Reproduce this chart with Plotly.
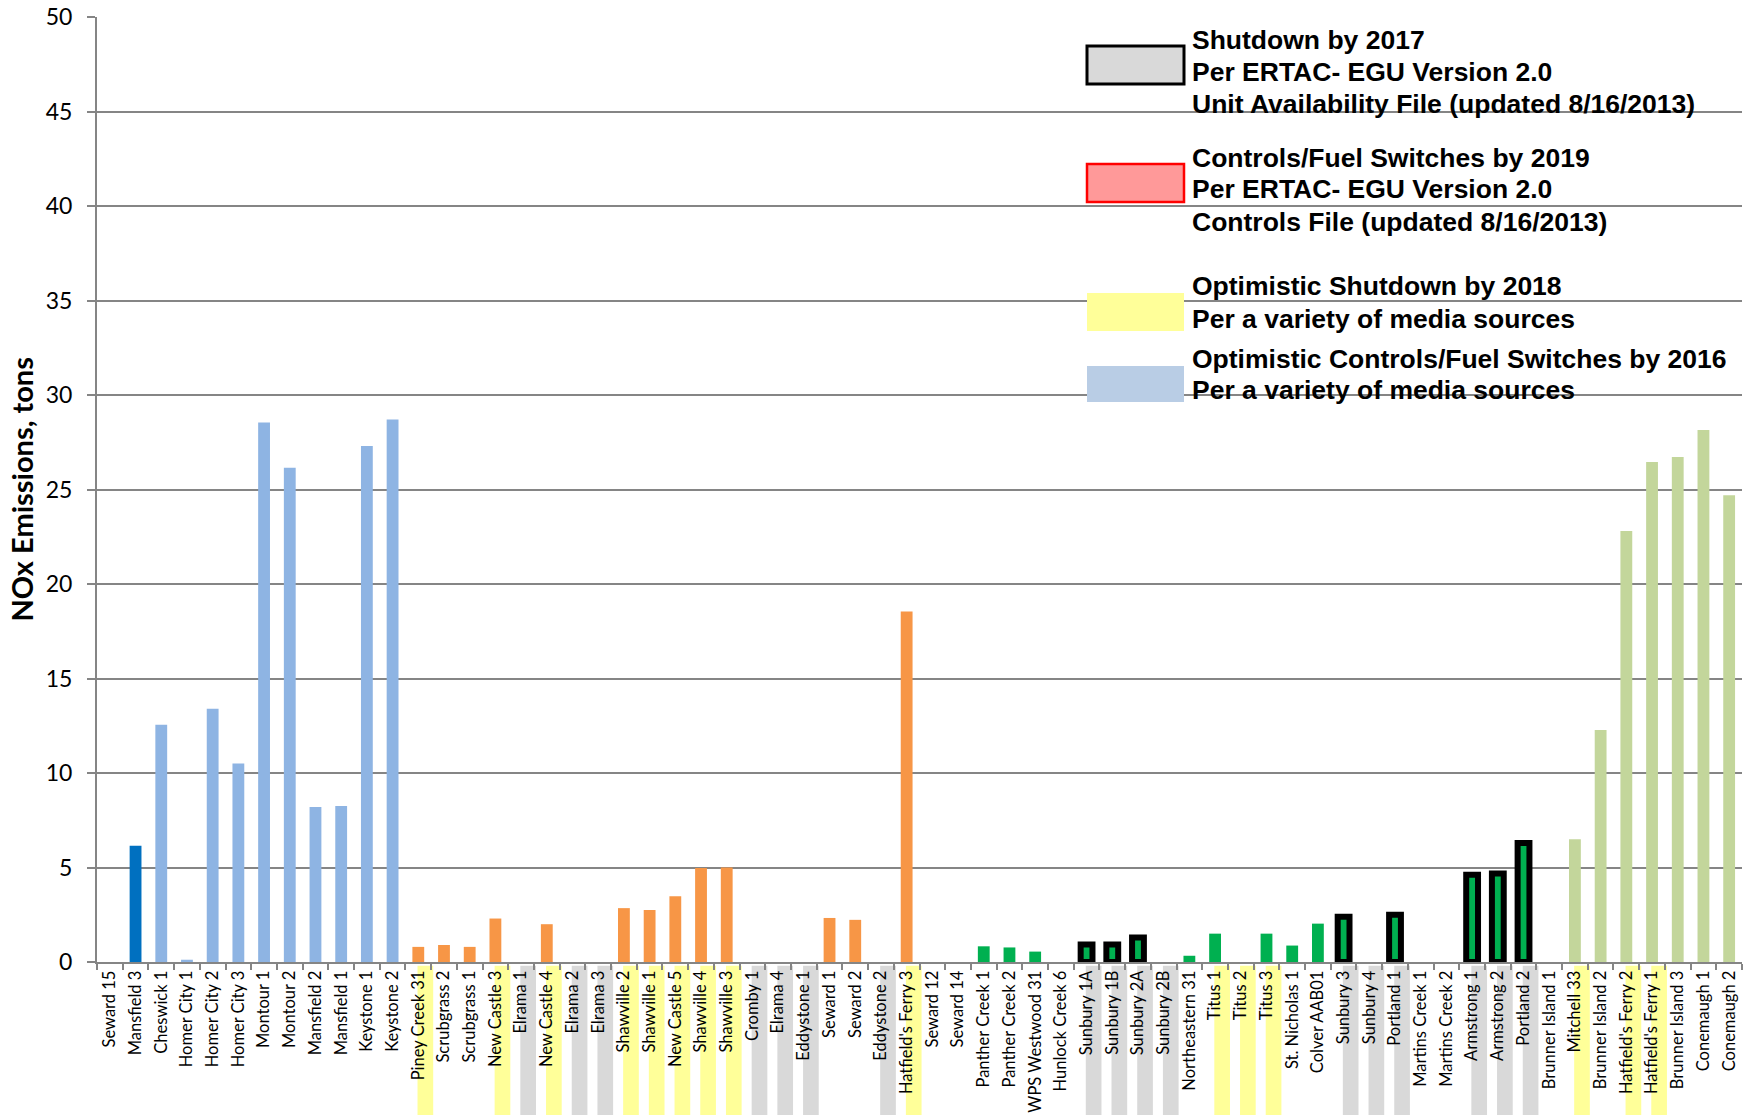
import plotly.graph_objects as go

# ---- data -------------------------------------------------------------
units = [
    "Seward 15", "Mansfield 3", "Cheswick 1", "Homer City 1", "Homer City 2",
    "Homer City 3", "Montour 1", "Montour 2", "Mansfield 2", "Mansfield 1",
    "Keystone 1", "Keystone 2", "Piney Creek 31", "Scrubgrass 2", "Scrubgrass 1",
    "New Castle 3", "Elrama 1", "New Castle 4", "Elrama 2", "Elrama 3",
    "Shawville 2", "Shawville 1", "New Castle 5", "Shawville 4", "Shawville 3",
    "Cromby 1", "Elrama 4", "Eddystone 1", "Seward 1", "Seward 2",
    "Eddystone 2", "Hatfield's Ferry 3", "Seward 12", "Seward 14", "Panther Creek 1",
    "Panther Creek 2", "WPS Westwood 31", "Hunlock Creek 6", "Sunbury 1A", "Sunbury 1B",
    "Sunbury 2A", "Sunbury 2B", "Northeastern 31", "Titus 1", "Titus 2",
    "Titus 3", "St. Nicholas 1", "Colver AAB01", "Sunbury 3", "Sunbury 4",
    "Portland 1", "Martins Creek 1", "Martins Creek 2", "Armstrong 1", "Armstrong 2",
    "Portland 2", "Brunner Island 1", "Mitchell 33", "Brunner Island 2", "Hatfield's Ferry 2",
    "Hatfield's Ferry 1", "Brunner Island 3", "Conemaugh 1", "Conemaugh 2",
]

nox_tons = [
    0.0, 6.15, 12.55, 0.12, 13.4,
    10.5, 28.55, 26.15, 8.2, 8.25,
    27.3, 28.7, 0.8, 0.9, 0.8,
    2.3, 0.0, 2.0, 0.0, 0.0,
    2.85, 2.75, 3.48, 4.97, 5.0,
    0.0, 0.0, 0.0, 2.33, 2.23,
    0.0, 18.55, 0.0, 0.0, 0.83,
    0.77, 0.55, 0.0, 0.92, 0.92,
    1.3, 0.0, 0.33, 1.5, 0.0,
    1.5, 0.87, 2.03, 2.4, 0.0,
    2.5, 0.0, 0.0, 4.62, 4.68,
    6.3, 0.0, 6.5, 12.28, 22.8,
    26.45, 26.72, 28.15, 24.7,
]

# unit grouping (contiguous runs along the axis)
unit_group = ["B"] * 1 + ["A"] * 1 + ["B"] * 10 + ["C"] * 20 + ["D"] * 24 + ["E"] * 8

shutdown_2017 = [
    "Elrama 1", "Elrama 2", "Elrama 3", "Cromby 1", "Elrama 4", "Eddystone 1",
    "Eddystone 2", "Sunbury 1A", "Sunbury 1B", "Sunbury 2A", "Sunbury 2B",
    "Sunbury 3", "Sunbury 4", "Portland 1", "Armstrong 1", "Armstrong 2", "Portland 2",
]
optimistic_shutdown_2018 = [
    "Piney Creek 31", "New Castle 3", "New Castle 4", "Shawville 2", "Shawville 1",
    "New Castle 5", "Shawville 4", "Shawville 3", "Hatfield's Ferry 3", "Titus 1",
    "Titus 2", "Titus 3", "Mitchell 33", "Hatfield's Ferry 2", "Hatfield's Ferry 1",
]

legend_entries = [
    ["Shutdown by 2017", "Per ERTAC- EGU Version 2.0",
     "Unit Availability File (updated 8/16/2013)"],
    ["Controls/Fuel Switches by 2019", "Per ERTAC- EGU Version 2.0",
     "Controls File (updated 8/16/2013)"],
    ["Optimistic Shutdown by 2018", "Per a variety of media sources"],
    ["Optimistic Controls/Fuel Switches by 2016", "Per a variety of media sources"],
]

# ---- styling ----------------------------------------------------------
GROUP_COLORS = {"A": "#0070C0", "B": "#8EB4E3", "C": "#F79646", "D": "#00B050", "E": "#C3D69B"}
GRID = "#858585"
W, H = 1748, 1115
M = dict(l=97, r=6, t=17, b=153)
PW = W - M["l"] - M["r"]
PH = H - M["t"] - M["b"]


def px_x(px):
    return (px - M["l"]) / PW


def px_y(py):
    return (H - M["b"] - py) / PH


bar_colors = [GROUP_COLORS[g] for g in unit_group]
outline_w = [6 if (u in shutdown_2017 and v > 0) else 0 for u, v in zip(units, nox_tons)]

fig = go.Figure()
fig.add_trace(go.Bar(
    x=units, y=nox_tons, width=0.46,
    marker=dict(color=bar_colors, line=dict(color="#000000", width=outline_w)),
    showlegend=False, hoverinfo="x+y",
))

# status bands under the category labels
shapes = []
for i, u in enumerate(units):
    band = None
    if u in shutdown_2017:
        band = "#D9D9D9"
    elif u in optimistic_shutdown_2018:
        band = "#FFFF99"
    if band:
        shapes.append(dict(type="rect", xref="x", yref="paper", x0=i - 0.03, x1=i + 0.58,
                           y0=-0.004, y1=-0.2, fillcolor=band, line=dict(width=0), layer="below"))

# legend swatches
swatches = [
    dict(fill="#D9D9D9", line="#000000", lw=3, top=46, bot=84),
    dict(fill="#FF9999", line="#FF0000", lw=2.5, top=164, bot=202),
    dict(fill="#FFFF99", line=None, lw=0, top=293, bot=331),
    dict(fill="#B9CDE5", line=None, lw=0, top=366, bot=402),
]
for s in swatches:
    shapes.append(dict(type="rect", xref="paper", yref="paper",
                       x0=px_x(1087), x1=px_x(1184), y0=px_y(s["bot"]), y1=px_y(s["top"]),
                       fillcolor=s["fill"],
                       line=dict(color=s["line"] or s["fill"], width=s["lw"]), layer="above"))

line_centers = [
    [40.0, 72.4, 103.6],
    [158.2, 189.4, 221.8],
    [286.4, 318.8],
    [358.8, 390.1],
]
annotations = []
for lines, centers in zip(legend_entries, line_centers):
    for txt, cy in zip(lines, centers):
        annotations.append(dict(
            text=txt, xref="paper", yref="paper", x=px_x(1190), y=px_y(cy),
            xanchor="left", yanchor="middle", align="left", showarrow=False,
            font=dict(family="Liberation Sans Narrow, Arial Narrow, Liberation Sans", size=26.5,
                      color="#000000", weight="bold"),
        ))

annotations.append(dict(
    text="<b>NOx Emissions, tons</b>", xref="paper", yref="paper",
    x=px_x(21), y=0.5, xanchor="center", yanchor="middle", textangle=-90,
    showarrow=False, font=dict(family="Lato", size=29, color="#000000"),
))

fig.update_layout(
    width=W, height=H, margin=M,
    paper_bgcolor="white", plot_bgcolor="white",
    shapes=shapes, annotations=annotations, bargap=0.5,
    xaxis=dict(
        type="category", range=[-0.5, len(units) - 0.5], automargin=False,
        tickangle=-90, tickson="boundaries", ticks="outside", ticklen=6,
        tickcolor=GRID, tickwidth=2, showline=True, linecolor=GRID, linewidth=2,
        showgrid=False, tickfont=dict(family="Lato", size=16.5, color="#000000"),
    ),
    yaxis=dict(
        range=[0, 50], dtick=5, ticks="outside", ticklen=8, tickcolor=GRID, tickwidth=2,
        showline=True, linecolor=GRID, linewidth=2, gridcolor=GRID, gridwidth=2,
        zeroline=False, ticklabelstandoff=10, automargin=False,
        tickfont=dict(family="Lato", size=23, color="#000000"),
    ),
)

fig.write_html("out.html")
